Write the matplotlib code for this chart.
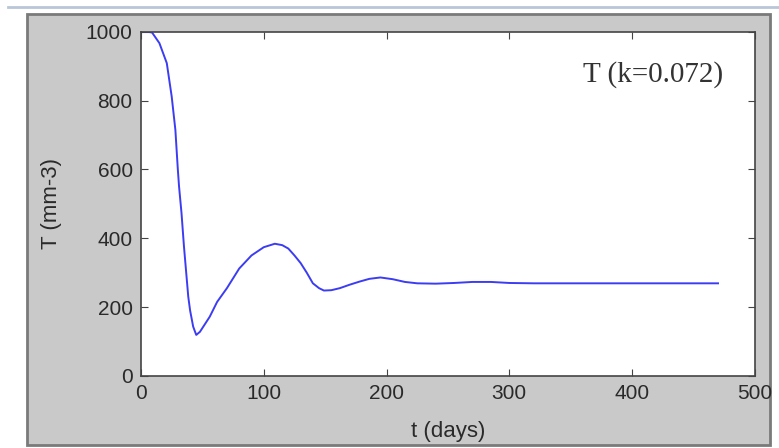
import matplotlib.pyplot as plt
from matplotlib.patches import Rectangle
from matplotlib.lines import Line2D

# values
t_days = [0, 5, 9, 15, 21, 25, 28, 30, 31, 33, 35, 38.5, 40, 42.5, 45, 48, 52, 56,
          62, 70, 80, 90, 100, 109, 115, 120, 125, 130, 135, 140, 145, 149, 155,
          162, 170, 178, 186, 195, 205, 215, 225, 240, 255, 270, 285, 300, 320,
          360, 420, 470]
T_vals = [1000, 1000, 998, 967, 909, 812, 715, 600, 550, 473, 376, 230, 190, 143,
          119, 128, 150, 172, 215, 255, 312, 350, 374, 384, 380, 370, 350, 328,
          300, 269, 255, 248, 249, 255, 265, 274, 282, 286, 281, 273, 269, 268,
          270, 273, 273, 270, 269, 269, 269, 269]

x_ticks = [0, 100, 200, 300, 400, 500]
y_ticks = [0, 200, 400, 600, 800, 1000]

fig = plt.figure(figsize=(7.79, 4.48), dpi=100, facecolor="white")

# gray window panel behind the axes
fig.patches.append(Rectangle((0.035, 0.006), 0.953, 0.963, transform=fig.transFigure,
                             facecolor="#c9c9c9", edgecolor="#7a7a7a", linewidth=2,
                             zorder=-2))
fig.lines.append(Line2D([0.01, 1.0], [0.984, 0.984], transform=fig.transFigure,
                        color="#b9c6d8", linewidth=2, zorder=-2))

ax = fig.add_axes([0.181, 0.161, 0.788, 0.768])
ax.plot(t_days, T_vals, color="#3c3cf2", linewidth=1.4)

ax.set_xlim(0, 500)
ax.set_ylim(0, 1000)
ax.set_xticks(x_ticks)
ax.set_yticks(y_ticks)
ax.tick_params(direction="in", length=5, top=True, right=True, pad=6,
               labelsize=15, labelcolor="#2a2a2a", color="#444444")
for lbl in ax.get_xticklabels() + ax.get_yticklabels():
    lbl.set_family("Liberation Sans")
for s in ax.spines.values():
    s.set_color("#444444")
    s.set_linewidth(1.2)

ax.set_xlabel("t (days)", fontsize=16, family="Liberation Sans", color="#2a2a2a", va="center")
ax.set_ylabel("T (mm-3)", fontsize=16, family="Liberation Sans", color="#2a2a2a", va="center")
ax.xaxis.set_label_coords(0.5, -0.163)
ax.yaxis.set_label_coords(-0.145, 0.5)

ax.text(417, 875, "T (k=0.072)", fontsize=21, family="Liberation Serif",
        color="#333333", ha="center", va="center")

fig.savefig("out.png", dpi=100, facecolor=fig.get_facecolor())
